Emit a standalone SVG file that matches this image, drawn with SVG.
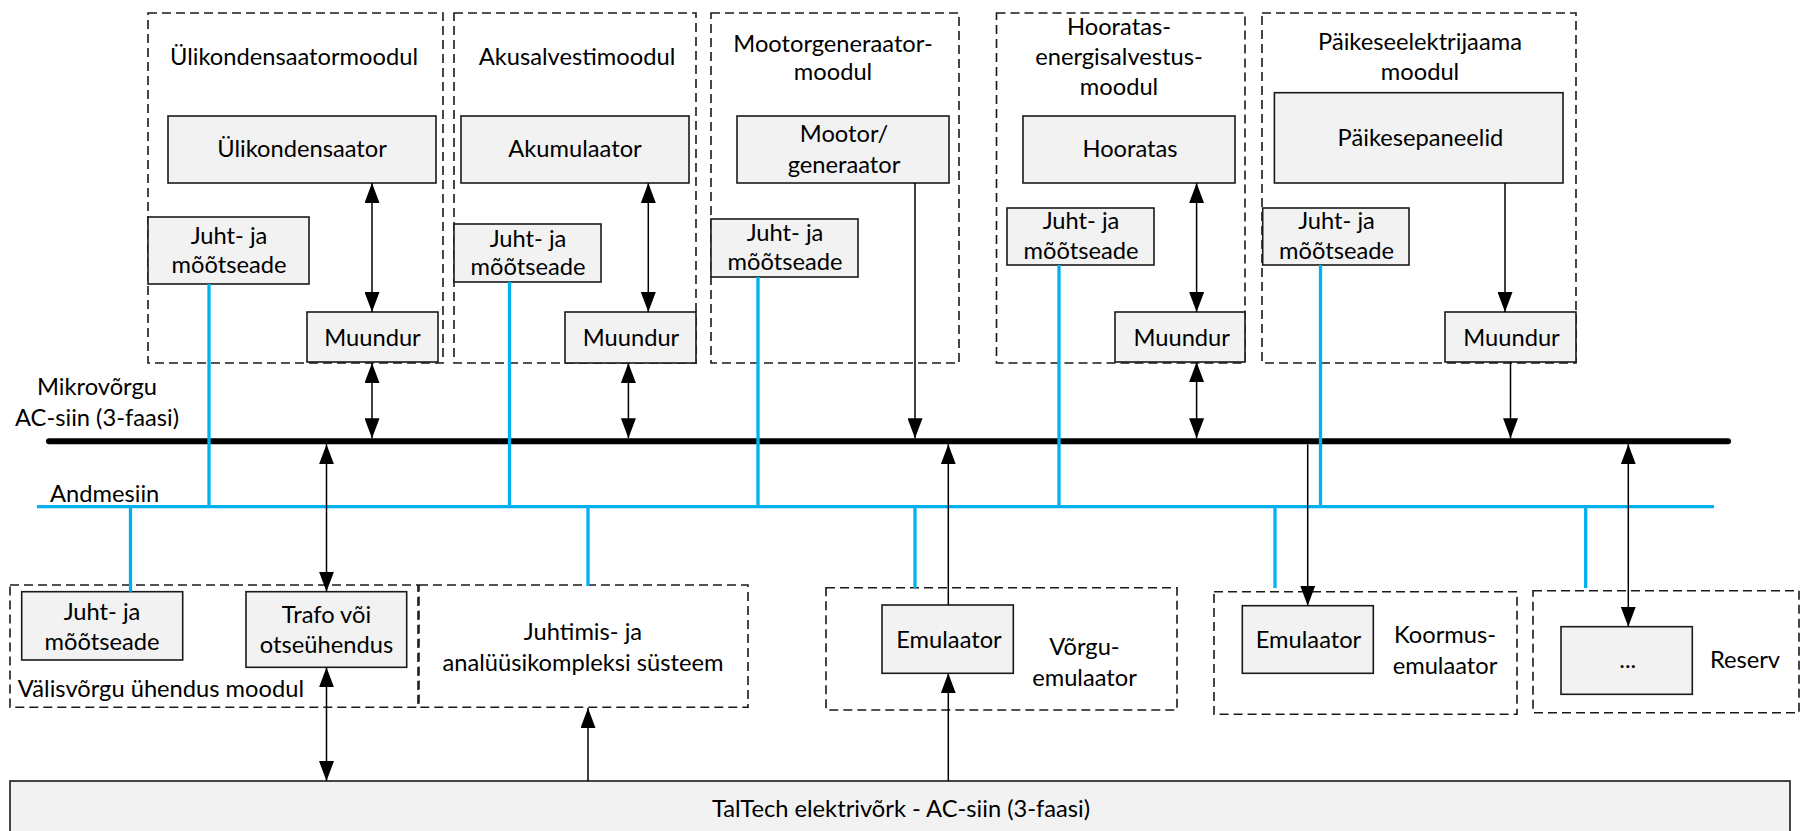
<svg xmlns="http://www.w3.org/2000/svg" width="1800" height="831" viewBox="0 0 1800 831">
  <style>
    text { font-family: Lato, "Liberation Sans", sans-serif; font-size: 23.7px; fill: #000; }
    .c { text-anchor: middle; }
    .frame { fill: none; stroke: #1a1a1a; stroke-width: 1.6; stroke-dasharray: 9 5; }
    .box { fill: #f2f2f2; stroke: #1a1a1a; stroke-width: 1.6; }
    .wire { fill: none; stroke: #000; stroke-width: 1.5; }
    .data { fill: none; stroke: #00b0f0; stroke-width: 3.3; }
    .bus { fill: none; stroke: #000; stroke-width: 6; stroke-linecap: round; }
  </style>
  <defs>
    <marker id="ah" markerUnits="userSpaceOnUse" markerWidth="21" markerHeight="15" refX="20" refY="7.5" orient="auto-start-reverse">
      <path d="M0,0 L20,7.5 L0,15 z" fill="#000"/>
    </marker>
  </defs>

  <!-- AC bus and data bus -->
  <g id="buses">
    <line class="bus" x1="49" y1="441.3" x2="1728" y2="441.3"/>
    <line class="data" x1="37" y1="506.7" x2="1714" y2="506.7"/>
    <text class="c" x="97" y="395">Mikrovõrgu</text>
    <text class="c" x="97" y="426">AC-siin (3-faasi)</text>
    <text x="50" y="501.7">Andmesiin</text>
  </g>

  <!-- Supercapacitor module -->
  <g id="mod-ulikondensaator">
    <rect class="frame" x="148" y="13" width="295" height="350"/>
    <text class="c" x="294" y="65">Ülikondensaatormoodul</text>
  </g>
  <g id="ulikondensaator">
    <rect class="box" x="168" y="116" width="268" height="67"/>
    <text class="c" x="302" y="157">Ülikondensaator</text>
  </g>
  <g id="juht1">
    <rect class="box" x="148" y="217" width="161" height="67"/>
    <text class="c" x="229" y="244">Juht- ja</text>
    <text class="c" x="229" y="273">mõõtseade</text>
  </g>
  <g id="muundur1">
    <rect class="box" x="307" y="312" width="131" height="50"/>
    <text class="c" x="372.5" y="346">Muundur</text>
  </g>

  <!-- Battery module -->
  <g id="mod-akusalvesti">
    <rect class="frame" x="454" y="13" width="242" height="350"/>
    <text class="c" x="577" y="65">Akusalvestimoodul</text>
  </g>
  <g id="akumulaator">
    <rect class="box" x="461" y="116" width="228" height="67"/>
    <text class="c" x="575" y="157">Akumulaator</text>
  </g>
  <g id="juht2">
    <rect class="box" x="454" y="224" width="147" height="58"/>
    <text class="c" x="528" y="246.7">Juht- ja</text>
    <text class="c" x="528" y="275">mõõtseade</text>
  </g>
  <g id="muundur2">
    <rect class="box" x="565" y="312" width="131" height="51"/>
    <text class="c" x="631" y="346">Muundur</text>
  </g>

  <!-- Motor-generator module -->
  <g id="mod-mootorgeneraator">
    <rect class="frame" x="711" y="13" width="248" height="350"/>
    <text class="c" x="833" y="52">Mootorgeneraator-</text>
    <text class="c" x="833" y="80">moodul</text>
  </g>
  <g id="mootor">
    <rect class="box" x="737" y="116" width="212" height="67"/>
    <text class="c" x="844" y="142">Mootor/</text>
    <text class="c" x="844" y="172.7">generaator</text>
  </g>
  <g id="juht3">
    <rect class="box" x="711" y="219" width="147" height="58"/>
    <text class="c" x="785" y="240.7">Juht- ja</text>
    <text class="c" x="785" y="270">mõõtseade</text>
  </g>

  <!-- Flywheel module -->
  <g id="mod-hooratas">
    <rect class="frame" x="996.5" y="13" width="248.5" height="350"/>
    <text class="c" x="1119" y="35">Hooratas-</text>
    <text class="c" x="1119" y="65">energisalvestus-</text>
    <text class="c" x="1119" y="95">moodul</text>
  </g>
  <g id="hooratas">
    <rect class="box" x="1023" y="116" width="212" height="67"/>
    <text class="c" x="1130" y="157">Hooratas</text>
  </g>
  <g id="juht4">
    <rect class="box" x="1007" y="208" width="147" height="57"/>
    <text class="c" x="1081" y="229.3">Juht- ja</text>
    <text class="c" x="1081" y="259.3">mõõtseade</text>
  </g>
  <g id="muundur4">
    <rect class="box" x="1115" y="312" width="130" height="50"/>
    <text class="c" x="1181.7" y="346">Muundur</text>
  </g>

  <!-- Solar plant module -->
  <g id="mod-paikeseelektrijaam">
    <rect class="frame" x="1262" y="13" width="314" height="350"/>
    <text class="c" x="1420" y="50">Päikeseelektrijaama</text>
    <text class="c" x="1420" y="80">moodul</text>
  </g>
  <g id="paikesepaneelid">
    <rect class="box" x="1274.4" y="92.7" width="288.6" height="90.3"/>
    <text class="c" x="1420.5" y="145.5">Päikesepaneelid</text>
  </g>
  <g id="juht5">
    <rect class="box" x="1262.7" y="208" width="146.3" height="57"/>
    <text class="c" x="1336.5" y="229.3">Juht- ja</text>
    <text class="c" x="1336.5" y="259.3">mõõtseade</text>
  </g>
  <g id="muundur5">
    <rect class="box" x="1445" y="312" width="131" height="50"/>
    <text class="c" x="1511.5" y="346">Muundur</text>
  </g>

  <!-- External grid connection module -->
  <g id="mod-valisvork">
    <rect class="frame" x="10" y="585" width="408" height="122.3"/>
    <text x="17.8" y="696.7">Välisvõrgu ühendus moodul</text>
  </g>
  <g id="juht-valis">
    <rect class="box" x="21.7" y="591.7" width="161" height="68.3"/>
    <text class="c" x="102" y="620">Juht- ja</text>
    <text class="c" x="102" y="650">mõõtseade</text>
  </g>
  <g id="trafo">
    <rect class="box" x="246" y="591.7" width="160.7" height="75.6"/>
    <text class="c" x="326.5" y="622.7">Trafo või</text>
    <text class="c" x="326.5" y="653.3">otseühendus</text>
  </g>

  <!-- Control and analysis system -->
  <g id="juhtimiskompleks">
    <rect class="frame" x="419" y="585" width="329" height="122.3"/>
    <text class="c" x="583" y="640">Juhtimis- ja</text>
    <text class="c" x="583" y="670.5">analüüsikompleksi süsteem</text>
  </g>

  <!-- Grid emulator -->
  <g id="vorgu-emulaator">
    <rect class="frame" x="826" y="587.7" width="351" height="122.3"/>
    <text class="c" x="1084.5" y="655">Võrgu-</text>
    <text class="c" x="1084.5" y="686">emulaator</text>
  </g>
  <g id="emulaator-vork">
    <rect class="box" x="882" y="605" width="131.3" height="68.3"/>
    <text class="c" x="949" y="648.3">Emulaator</text>
  </g>

  <!-- Load emulator -->
  <g id="koormus-emulaator">
    <rect class="frame" x="1214" y="591.7" width="303" height="122.6"/>
    <text class="c" x="1445" y="643">Koormus-</text>
    <text class="c" x="1445" y="674">emulaator</text>
  </g>
  <g id="emulaator-koormus">
    <rect class="box" x="1242.3" y="605.7" width="131" height="67.6"/>
    <text class="c" x="1308.5" y="648">Emulaator</text>
  </g>

  <!-- Reserve slot -->
  <g id="reserv">
    <rect class="frame" x="1533" y="590.7" width="266" height="122"/>
    <text class="c" x="1745" y="668">Reserv</text>
  </g>
  <g id="reserv-slot">
    <rect class="box" x="1561" y="626.7" width="131.3" height="67.6"/>
    <text class="c" x="1627.7" y="668">...</text>
  </g>

  <!-- University grid -->
  <g id="taltech">
    <rect class="box" x="10" y="781" width="1780" height="60"/>
    <text class="c" x="901" y="816.7">TalTech elektrivõrk - AC-siin (3-faasi)</text>
  </g>

  <!-- Connectors -->
  <g id="connectors">
    <!-- data links -->
    <line class="data" x1="209" y1="284" x2="209" y2="506.7"/>
    <line class="data" x1="509.5" y1="282" x2="509.5" y2="506.7"/>
    <line class="data" x1="758" y1="277" x2="758" y2="506.7"/>
    <line class="data" x1="1059" y1="265" x2="1059" y2="506.7"/>
    <line class="data" x1="1320.5" y1="265" x2="1320.5" y2="506.7"/>
    <line class="data" x1="130.5" y1="506.7" x2="130.5" y2="591.7"/>
    <line class="data" x1="588" y1="506.7" x2="588" y2="586"/>
    <line class="data" x1="915" y1="506.7" x2="915" y2="588"/>
    <line class="data" x1="1275" y1="506.7" x2="1275" y2="588"/>
    <line class="data" x1="1585.7" y1="506.7" x2="1585.7" y2="588"/>

    <!-- power links inside modules -->
    <line class="wire" x1="372" y1="183" x2="372" y2="312" marker-start="url(#ah)" marker-end="url(#ah)"/>
    <line class="wire" x1="648.3" y1="183" x2="648.3" y2="312" marker-start="url(#ah)" marker-end="url(#ah)"/>
    <line class="wire" x1="1196.6" y1="183" x2="1196.6" y2="312" marker-start="url(#ah)" marker-end="url(#ah)"/>
    <line class="wire" x1="1505" y1="183" x2="1505" y2="312" marker-end="url(#ah)"/>

    <!-- module to AC bus -->
    <line class="wire" x1="372" y1="363" x2="372" y2="438.3" marker-start="url(#ah)" marker-end="url(#ah)"/>
    <line class="wire" x1="628.4" y1="363" x2="628.4" y2="438.3" marker-start="url(#ah)" marker-end="url(#ah)"/>
    <line class="wire" x1="915" y1="183" x2="915" y2="438.3" marker-end="url(#ah)"/>
    <line class="wire" x1="1196.6" y1="362" x2="1196.6" y2="438.3" marker-start="url(#ah)" marker-end="url(#ah)"/>
    <line class="wire" x1="1510.5" y1="362" x2="1510.5" y2="438.3" marker-end="url(#ah)"/>

    <!-- AC bus to lower units -->
    <line class="wire" x1="326.5" y1="444.3" x2="326.5" y2="591.7" marker-start="url(#ah)" marker-end="url(#ah)"/>
    <line class="wire" x1="948.3" y1="605" x2="948.3" y2="444.3" marker-end="url(#ah)"/>
    <line class="wire" x1="1307.7" y1="444.3" x2="1307.7" y2="605.7" marker-end="url(#ah)"/>
    <line class="wire" x1="1628.3" y1="444.3" x2="1628.3" y2="626.7" marker-start="url(#ah)" marker-end="url(#ah)"/>

    <!-- TalTech grid links -->
    <line class="wire" x1="326.5" y1="667.3" x2="326.5" y2="781" marker-start="url(#ah)" marker-end="url(#ah)"/>
    <line class="wire" x1="588" y1="781" x2="588" y2="708" marker-end="url(#ah)"/>
    <line class="wire" x1="948.3" y1="781" x2="948.3" y2="673.3" marker-end="url(#ah)"/>
  </g>
</svg>
